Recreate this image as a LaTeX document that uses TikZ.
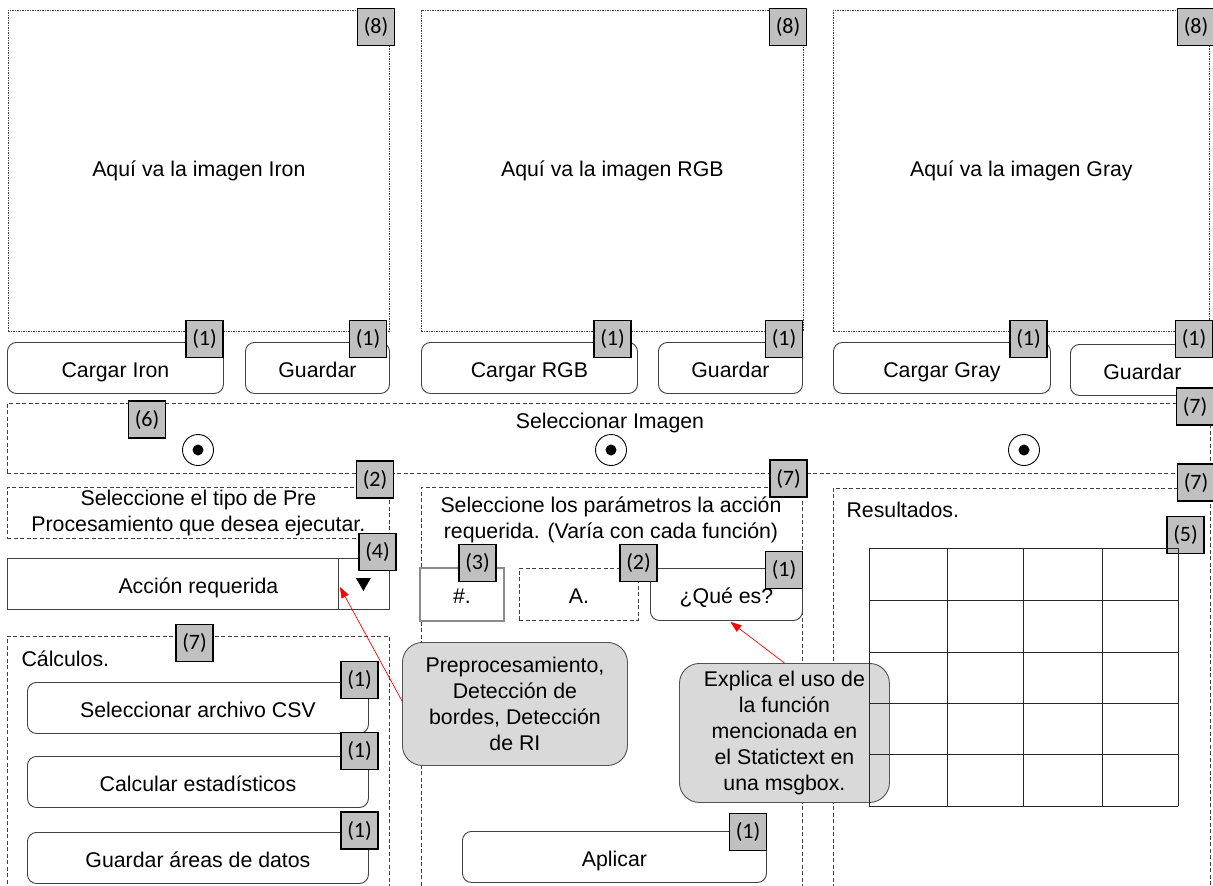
\documentclass[tikz,border=0pt]{standalone}
\usepackage{fontspec}
\setmainfont{Liberation Sans}
\newfontfamily\tagfont{Carlito}
\usetikzlibrary{arrows.meta,calc}
\definecolor{tagfill}{HTML}{C0C0C0}
\definecolor{callfill}{HTML}{D9D9D9}
\definecolor{edge}{HTML}{404040}
\definecolor{gridline}{HTML}{262626}

\begin{document}
\begin{tikzpicture}[x=1pt,y=-1pt,
  every node/.style={font=\fontsize{21.3}{26}\selectfont, text=black},
  imgpanel/.style={draw=edge, line width=0.7pt, dash pattern=on 1.5pt off 1pt, anchor=north west, inner sep=0pt},
  panel/.style={draw=edge, line width=0.8pt, dash pattern=on 4pt off 2.5pt, anchor=north west, inner sep=0pt, align=center},
  box/.style={draw=edge, line width=0.9pt, fill=white, anchor=north west, inner sep=0pt, text height=20pt, text depth=1.8pt},
  btn/.style={box, rounded corners=9pt},
  tag/.style={draw=black, line width=1.8pt, fill=tagfill, minimum size=37pt, inner sep=0pt, font=\tagfont\fontsize{22}{22}\selectfont},
  callout/.style={draw=edge!90, line width=0.9pt, fill=callfill, rounded corners=20pt, align=center, anchor=north west, inner sep=0pt},
  pointer/.style={red, line width=0.7pt, -{Triangle[length=11pt,width=8pt]}},
  radio/.style={circle, draw=black, line width=0.9pt, minimum size=31pt, inner sep=0pt, fill=white},
]
\useasboundingbox[fill=white] (0,0) rectangle (1213,886);

% ---- image panels ----
\node[imgpanel, minimum width=381pt, minimum height=321pt] (img1) at (8,10) {Aquí va la imagen Iron};
\node[imgpanel, minimum width=382pt, minimum height=321pt] (img2) at (421,10) {Aquí va la imagen RGB};
\node[imgpanel, minimum width=376pt, minimum height=321pt] (img3) at (833,10) {Aquí va la imagen Gray};
\node[tag] (t8a) at (376,27) {(8)};
\node[tag] (t8b) at (788,27) {(8)};
\node[tag] (t8c) at (1196,27) {(8)};

% ---- load / save buttons ----
\node[btn, minimum width=216pt, minimum height=51pt] (loadIron) at (7,342) {Cargar Iron};
\node[btn, minimum width=144pt, minimum height=51pt] (saveIron) at (245,342) {Guardar};
\node[btn, minimum width=216pt, minimum height=51pt] (loadRGB) at (421,342) {Cargar RGB};
\node[btn, minimum width=144pt, minimum height=51pt] (saveRGB) at (658,342) {Guardar};
\node[btn, minimum width=217pt, minimum height=51pt] (loadGray) at (833,342) {Cargar Gray};
\node[btn, minimum width=144pt, minimum height=51pt] (saveGray) at (1070,344) {Guardar};
\node[tag] (t1a) at (204.5,339) {(1)};
\node[tag] (t1b) at (368,339) {(1)};
\node[tag] (t1c) at (612.5,339) {(1)};
\node[tag] (t1d) at (784,339) {(1)};
\node[tag] (t1e) at (1028.5,339) {(1)};
\node[tag] (t1f) at (1194,339) {(1)};

% ---- image selector ----
\node[panel, minimum width=1203pt, minimum height=70pt] (selPanel) at (7,403) {};
\node (selLabel) at (610,423) {Seleccionar Imagen};
\node[radio] (rIron) at (198,450) {};
\node[radio] (rRGB) at (611,450) {};
\node[radio] (rGray) at (1024,450) {};
\fill (rIron.center) circle (5.5pt);
\fill (rRGB.center) circle (5.5pt);
\fill (rGray.center) circle (5.5pt);
\node[tag] (t6) at (147,419.5) {(6)};
\node[tag] (t7a) at (1195,406.5) {(7)};

% ---- left column ----
\node[panel, minimum width=382pt, minimum height=51pt] (preBox) at (7,487) {Seleccione el tipo de Pre\\Procesamiento que desea ejecutar.};
\node[tag] (t2a) at (375,479.5) {(2)};
\node[box, minimum width=382pt, minimum height=51pt] (combo) at (7,558) {Acción requerida};
\draw[edge, line width=0.9pt] ($(combo.north east)+(-51,0)$) -- ($(combo.south east)+(-51,0)$);
\fill ($(combo.north east)+(-34,20)$) -- ($(combo.north east)+(-19,20)$) -- ($(combo.north east)+(-26.5,33)$) -- cycle;
\coordinate (comboTip) at ($(combo.north east)+(-50,29)$);
\node[tag] (t4) at (377.5,552) {(4)};

\node[panel, minimum width=382pt, minimum height=260pt] (calcPanel) at (7,636) {};
\node[anchor=west] (calcLabel) at (18,659) {Cálculos.};
\node[tag] (t7b) at (194.5,643) {(7)};
\node[btn, minimum width=341pt, minimum height=51pt] (csv) at (27,682) {Seleccionar archivo CSV};
\node[btn, minimum width=341pt, minimum height=51pt] (stats) at (27,756) {Calcular estadísticos};
\node[btn, minimum width=341pt, minimum height=51pt] (areas) at (27,832) {Guardar áreas de datos};
\node[tag] (t1g) at (359.5,680) {(1)};
\node[tag] (t1h) at (359.5,751) {(1)};
\node[tag] (t1i) at (359.5,830.5) {(1)};

% ---- middle column ----
\node[panel, minimum width=381pt, minimum height=410pt] (paramPanel) at (421,487) {};
\node[align=center] (paramLabel) at (611,519.5) {Seleccione los parámetros la acción\\requerida. (Varía con cada función)};
\node[tag] (t7c) at (788.5,478.5) {(7)};
\node[box, draw=black!45, line width=2pt, minimum width=84pt, minimum height=53pt] (numBox) at (419,567) {\#.};
\node[panel, minimum width=119pt, minimum height=52pt, text height=20pt, text depth=1.8pt] (aBox) at (519,568) {A.};
\node[btn, minimum width=152pt, minimum height=52pt] (que) at (650,568) {¿Qué es?};
\node[tag] (t3) at (477.5,563) {(3)};
\node[tag] (t2b) at (638.5,563) {(2)};
\node[tag] (t1j) at (784,570) {(1)};
\node[btn, minimum width=304pt, minimum height=51pt] (apply) at (462,831) {Aplicar};
\node[tag] (t1k) at (748,832) {(1)};

% ---- right column ----
\node[panel, minimum width=377pt, minimum height=410pt] (resPanel) at (833,488) {};
\node[anchor=west] (resLabel) at (843,510) {Resultados.};
\node[tag] (t7d) at (1196,482.5) {(7)};
\node[tag] (t5) at (1185.5,535) {(5)};

% ---- notes ----
\node[callout, minimum width=225pt, minimum height=123pt] (noteAction) at (402,642) {Preprocesamiento,\\Detección de\\bordes, Detección\\de RI};
\node[callout, minimum width=210pt, minimum height=139pt] (noteHelp) at (679,663) {Explica el uso de\\la función\\mencionada en\\el Statictext en\\una msgbox.};

% ---- results table ----
\foreach \x in {869,947,1023,1102,1178}
  \draw[gridline, line width=0.9pt] (\x,548) -- (\x,806);
\foreach \y in {548,600,652,703,754,806}
  \draw[gridline, line width=0.9pt] (869,\y) -- (1178,\y);

% ---- pointers ----
\draw[pointer] ($(noteAction.west)+(0,-3)$) -- (comboTip);
\draw[pointer] (noteHelp.north) -- ($(que.south)+(4,1)$);
\end{tikzpicture}
\end{document}
